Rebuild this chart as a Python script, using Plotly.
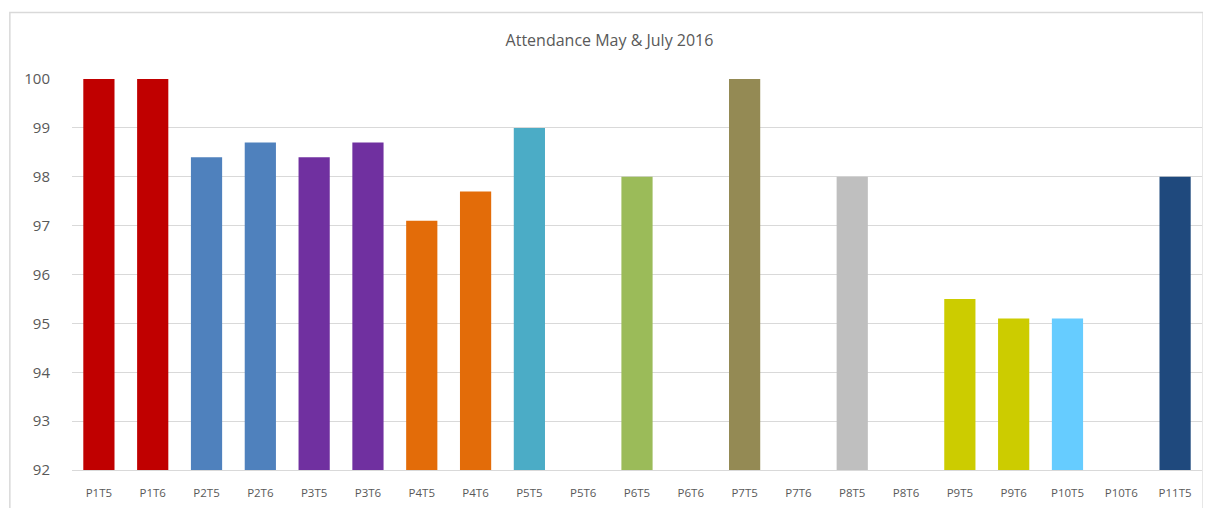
import plotly.graph_objects as go

categories = ["P1T5", "P1T6", "P2T5", "P2T6", "P3T5", "P3T6", "P4T5", "P4T6",
              "P5T5", "P5T6", "P6T5", "P6T6", "P7T5", "P7T6", "P8T5", "P8T6",
              "P9T5", "P9T6", "P10T5", "P10T6", "P11T5"]
attendance = [100, 100, 98.4, 98.7, 98.4, 98.7, 97.1, 97.7,
              99, None, 98, None, 100, None, 98, None,
              95.5, 95.1, 95.1, None, 98]
group_colors = {"P1": "#C00000", "P2": "#4F81BD", "P3": "#7030A0", "P4": "#E36C09",
                "P5": "#4BACC6", "P6": "#9BBB59", "P7": "#948A54", "P8": "#BFBFBF",
                "P9": "#CCCC00", "P10": "#66CCFF", "P11": "#1F497D"}

colors = [group_colors[c.split("T")[0]] for c in categories]

fig = go.Figure(go.Bar(x=categories, y=attendance, marker_color=colors,
                       marker_line_width=0, width=0.58))

# light outer frame like the spreadsheet chart area
fig.add_shape(type="rect", xref="paper", yref="paper",
              x0=-0.055, x1=1.001, y0=-0.3, y1=1.17,
              line=dict(color="#D9D9D9", width=1.5), layer="below")

# page body adds an 8px offset, so the figure is sized 8px smaller
fig.update_layout(
    width=1203, height=500,
    title=dict(text="Attendance May & July 2016", x=0.5, xanchor="center",
               y=0.935, yanchor="middle",
               font=dict(family="Open Sans", size=16, color="#595959")),
    paper_bgcolor="white", plot_bgcolor="white",
    margin=dict(l=64, r=9, t=71, b=38),
    showlegend=False, bargap=0.42,
    font=dict(family="Open Sans", color="#595959"),
)
# invisible outside ticks push the y labels left, as in the original
fig.update_yaxes(range=[92, 100], dtick=1, showgrid=True, gridcolor="#D9D9D9",
                 gridwidth=1, zeroline=False, tickfont=dict(size=15, color="#595959"),
                 ticks="outside", ticklen=12, tickcolor="rgba(0,0,0,0)",
                 ticklabelstandoff=6)
fig.update_xaxes(tickfont=dict(size=11.5, color="#595959"), showline=True,
                 linecolor="#D9D9D9", ticks="", ticklabelstandoff=12)

fig.write_html("out.html")
